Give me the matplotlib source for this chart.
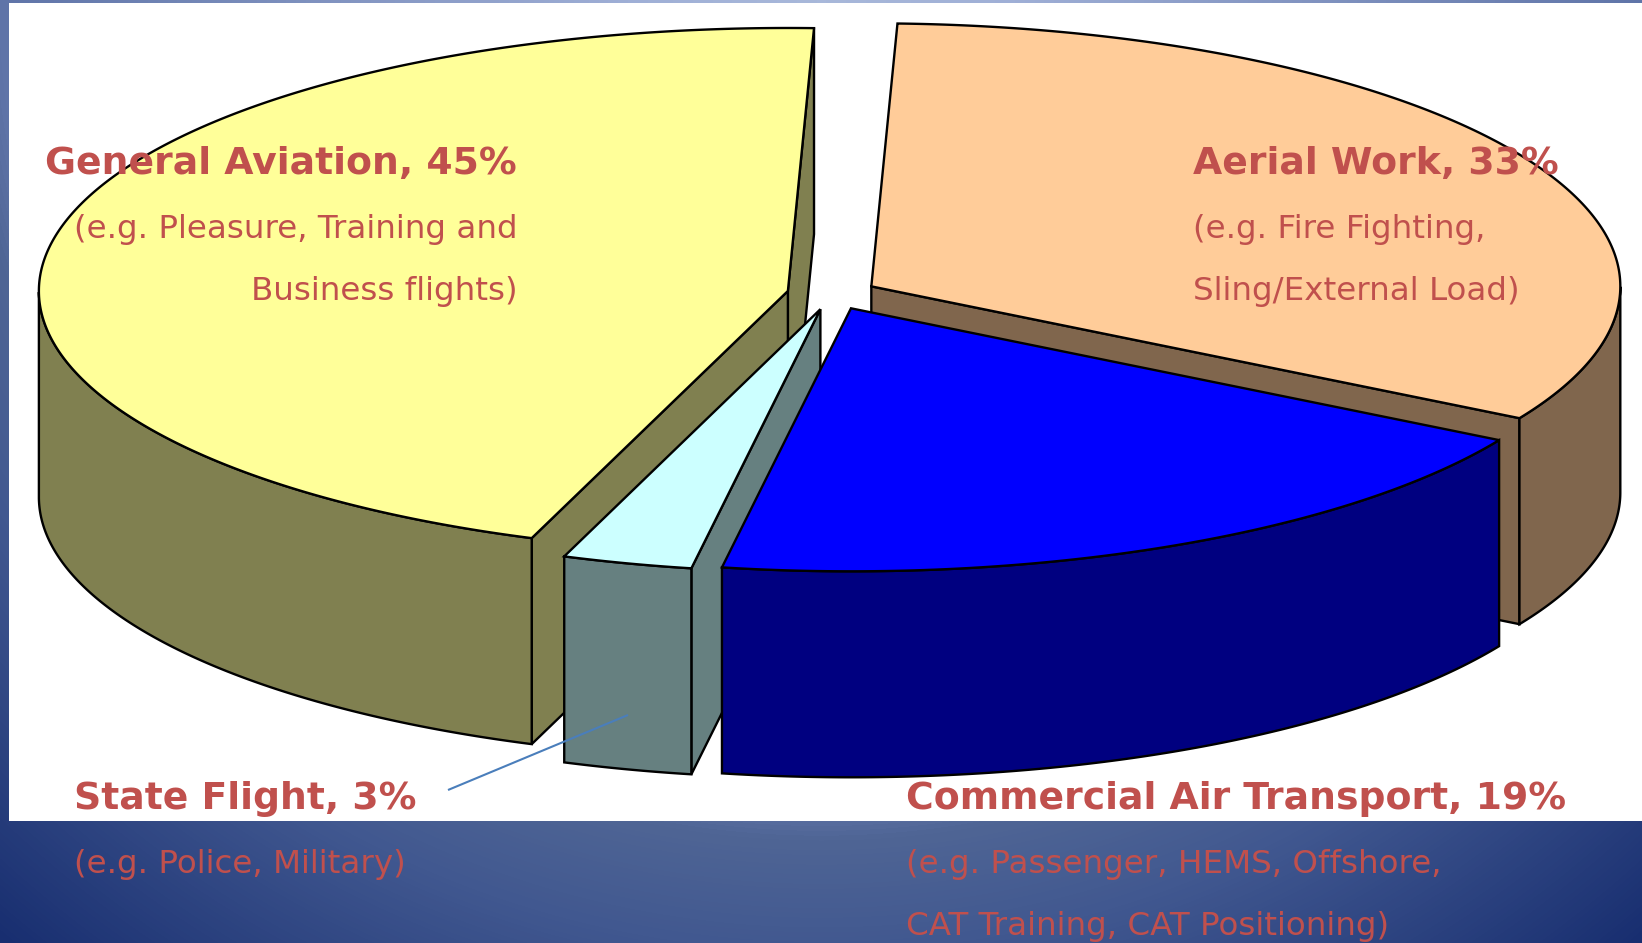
#!/usr/bin/python3
import numpy as np
import matplotlib
matplotlib.use("Agg")
import matplotlib.pyplot as plt
from matplotlib.colors import LinearSegmentedColormap
from matplotlib.patches import Polygon, Rectangle

# slices in drawing direction, counter clockwise from the start angle
# shares are read off the slice angles, the labels show them rounded
categories = ["General Aviation", "State Flight", "Commercial Air Transport", "Aerial Work"]
shares = [45.0, 2.8, 19.4, 32.8]
top_colors = ["#FFFF99", "#CCFFFF", "#0000FF", "#FFCC99"]
side_colors = ["#808050", "#668080", "#000080", "#80664D"]
draw_order = [0, 3, 1, 2]

TEXT_COLOR = "#C0504D"
W, H = 1642, 943
CX, CY = 832, 294
RX, RY = 749, 263
DEPTH = 206
EXPLODE = 0.06
START = 88


def ell(cx, cy, t):
    t = np.radians(t)
    return cx + RX * np.cos(t), cy - RY * np.sin(t)


def draw_slice(ax, t0, t1, top, side, z):
    mid = (t0 + t1) / 2
    cx, cy = ell(CX, CY, mid)
    cx = CX + (cx - CX) * EXPLODE
    cy = CY + (cy - CY) * EXPLODE

    # cut faces, only the ones turned to the viewer
    for t, normal in [(t0, t0 - 90), (t1, t1 + 90)]:
        if np.sin(np.radians(normal)) < 0:
            x, y = ell(cx, cy, t)
            pts = [(cx, cy), (x, y), (x, y + DEPTH), (cx, cy + DEPTH)]
            ax.add_patch(Polygon(pts, fc=side, ec="black", lw=1.7, zorder=z))

    # outer wall, the front half of the rim only
    ts = np.arange(t0, t1, 0.25)
    ts = np.append(ts, t1)
    front = ts[np.sin(np.radians(ts)) <= 0]
    if len(front) > 1:
        x, y = ell(cx, cy, front)
        pts = np.vstack([np.column_stack([x, y]),
                         np.column_stack([x, y + DEPTH])[::-1]])
        ax.add_patch(Polygon(pts, fc=side, ec="black", lw=1.7, zorder=z))

    x, y = ell(cx, cy, ts)
    pts = np.vstack([[(cx, cy)], np.column_stack([x, y])])
    ax.add_patch(Polygon(pts, fc=top, ec="black", lw=1.7, zorder=z))


def label(i):
    return f"{categories[i]}, {round(shares[i])}%"


fig = plt.figure(figsize=(W / 100, H / 100), dpi=100)
ax = fig.add_axes([0, 0, 1, 1])
ax.set_xlim(0, W)
ax.set_ylim(H, 0)
ax.axis("off")

# slide background
yy, xx = np.mgrid[0:H, 0:W]
dist = np.hypot((xx - 821) / 821, yy / 800)
stops = [(0.0, "#A8B8DA"), (0.15, "#9FAFD6"), (0.65, "#5F74A8"), (0.68, "#4F6595"),
         (0.77, "#415890"), (1.0, "#182E70")]
cmap = LinearSegmentedColormap.from_list("slide", stops)
ax.imshow(dist / dist.max(), cmap=cmap, extent=(0, W, H, 0), aspect="auto", zorder=0)
ax.set_xlim(0, W)
ax.set_ylim(H, 0)
ax.add_patch(Rectangle((9, 3), W - 9, 818, fc="white", ec="none", zorder=1))

edges = START + np.cumsum([0] + shares) * 3.6
for z, i in enumerate(draw_order):
    draw_slice(ax, edges[i], edges[i + 1], top_colors[i], side_colors[i], 2 + z)

ax.plot([448, 628], [790, 715], color="#4A7EBB", lw=1.5, zorder=8, solid_capstyle="butt")

bold = dict(color=TEXT_COLOR, fontsize=27.2, fontweight="bold", va="baseline", zorder=10,
            family="DejaVu Sans")
thin = dict(color=TEXT_COLOR, fontsize=23.4, va="baseline", zorder=10, family="DejaVu Sans",
            clip_on=False)

ax.text(517, 174, label(0), ha="right", **bold)
ax.text(518, 238, "(e.g. Pleasure, Training and", ha="right", **thin)
ax.text(518, 300, "Business flights)", ha="right", **thin)

ax.text(1193, 174, label(3), ha="left", **bold)
ax.text(1193, 238, "(e.g. Fire Fighting,", ha="left", **thin)
ax.text(1193, 300, "Sling/External Load)", ha="left", **thin)

ax.text(74, 809, label(1), ha="left", **bold)
ax.text(74, 873, "(e.g. Police, Military)", ha="left", **thin)

ax.text(906, 809, label(2), ha="left", **bold)
ax.text(906, 873, "(e.g. Passenger, HEMS, Offshore,", ha="left", **thin)
ax.text(906, 935, "CAT Training, CAT Positioning)", ha="left", **thin)

fig.savefig("out.png", dpi=100)
